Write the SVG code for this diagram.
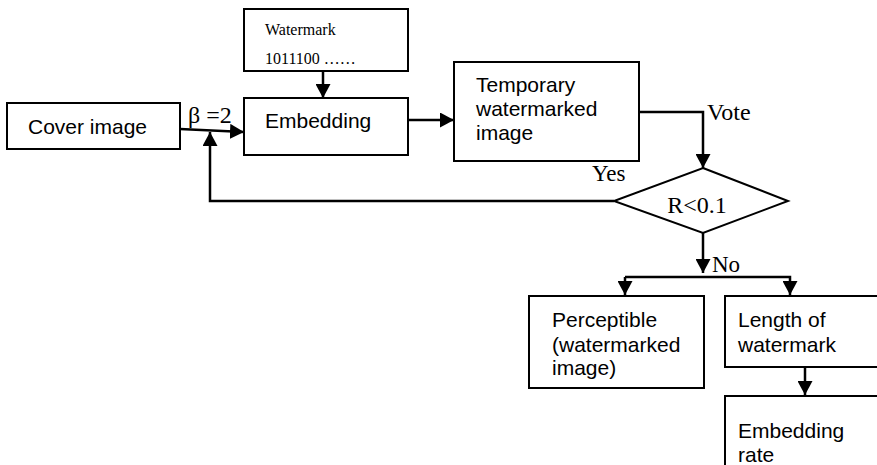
<svg xmlns="http://www.w3.org/2000/svg" width="877" height="465" viewBox="0 0 877 465">
<style>
.box{fill:#fff;stroke:#000;stroke-width:2}
.ln{fill:none;stroke:#000;stroke-width:2.5}
.sans{font-family:"Liberation Sans",Arial,sans-serif;font-size:21px;fill:#000}
.serif{font-family:"Liberation Serif","Times New Roman",serif;fill:#000}
</style>
<defs>
<marker id="ah" viewBox="0 0 14 15" refX="14" refY="7.5" markerWidth="14" markerHeight="15" markerUnits="userSpaceOnUse" orient="auto">
<path d="M0,0 L14,7.5 L0,15 Z" fill="#000"/>
</marker>
</defs>
<rect width="877" height="465" fill="#fff"/>
<g id="connectors">
<line class="ln" x1="323" y1="71" x2="323" y2="98" marker-end="url(#ah)"/>
<line class="ln" x1="180" y1="129" x2="244" y2="132" marker-end="url(#ah)"/>
<line class="ln" x1="408" y1="120" x2="454" y2="120" marker-end="url(#ah)"/>
<polyline class="ln" points="639,112 703,112 703,168" marker-end="url(#ah)"/>
<polyline class="ln" points="614,201 210,201 210,132" marker-end="url(#ah)"/>
<line class="ln" x1="703" y1="233" x2="703" y2="273" marker-end="url(#ah)"/>
<polyline class="ln" points="625,277 790,277 790,295" marker-end="url(#ah)"/>
<line class="ln" x1="625" y1="277" x2="625" y2="295" marker-end="url(#ah)"/>
<line class="ln" x1="805" y1="367" x2="805" y2="395" marker-end="url(#ah)"/>
<text class="serif" x="188" y="123" font-size="24">β =2</text>
<text class="serif" x="707" y="120" font-size="24">Vote</text>
<text class="serif" x="592" y="181" font-size="23">Yes</text>
<text class="serif" x="712" y="272" font-size="23">No</text>
</g>
<g id="cover">
<rect class="box" x="7" y="103" width="173" height="46"/>
<text class="sans" x="28" y="134">Cover image</text>
</g>
<g id="watermark">
<rect class="box" x="244" y="9" width="164" height="62"/>
<text class="serif" x="265" y="35" font-size="16">Watermark</text>
<text class="serif" x="265" y="64" font-size="16">1011100 ……</text>
</g>
<g id="embedding">
<rect class="box" x="244" y="98" width="164" height="57"/>
<text class="sans" x="265" y="128">Embedding</text>
</g>
<g id="temporary">
<rect class="box" x="454" y="62" width="185" height="99"/>
<text class="sans" x="476" y="92">Temporary</text>
<text class="sans" x="476" y="116">watermarked</text>
<text class="sans" x="476" y="140">image</text>
</g>
<g id="decision">
<polygon class="box" points="703,168 788,201 703,233 614,201"/>
<text class="serif" x="697" y="213" font-size="24" text-anchor="middle">R&lt;0.1</text>
</g>
<g id="perceptible">
<rect class="box" x="529" y="296" width="175" height="92"/>
<text class="sans" x="552" y="327">Perceptible</text>
<text class="sans" x="552" y="352">(watermarked</text>
<text class="sans" x="552" y="375">image)</text>
</g>
<g id="length">
<rect class="box" x="725" y="296" width="160" height="71"/>
<text class="sans" x="738" y="327">Length of</text>
<text class="sans" x="738" y="352">watermark</text>
</g>
<g id="rate">
<rect class="box" x="725" y="396" width="160" height="80"/>
<text class="sans" x="738" y="438">Embedding</text>
<text class="sans" x="738" y="462">rate</text>
</g>
</svg>
